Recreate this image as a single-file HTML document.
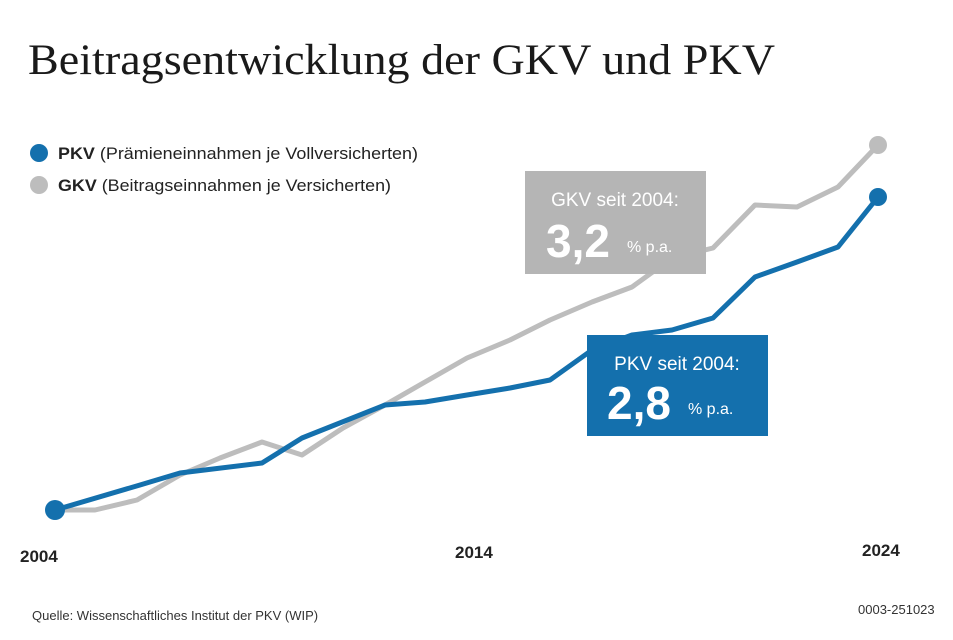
<!DOCTYPE html>
<html><head><meta charset="utf-8"><style>
body{margin:0;background:#fff;width:953px;height:635px;overflow:hidden;font-family:"Liberation Sans",sans-serif}
</style></head><body>
<svg width="953" height="635" xmlns="http://www.w3.org/2000/svg">
<text x="28" y="74" font-family="Liberation Serif,serif" font-size="43" fill="#1a1a1a" textLength="747" lengthAdjust="spacingAndGlyphs">Beitragsentwicklung der GKV und PKV</text>
<circle cx="39" cy="153" r="9" fill="#1470ad"/>
<text x="58" y="159" font-size="17" fill="#222" textLength="360" lengthAdjust="spacingAndGlyphs"><tspan font-weight="bold">PKV</tspan> (Prämieneinnahmen je Vollversicherten)</text>
<circle cx="39" cy="185" r="9" fill="#bdbdbd"/>
<text x="58" y="191" font-size="17" fill="#222" textLength="333" lengthAdjust="spacingAndGlyphs"><tspan font-weight="bold">GKV</tspan> (Beitragseinnahmen je Versicherten)</text>
<polyline fill="none" stroke="#bdbdbd" stroke-width="5" stroke-linejoin="round" points="55,510 95,510 137,500 180,475 220,458 262,442 302,455 343,428 385,405 425,382 467,358 510,340 550,320 592,302 632,287 672,258 713,248 755,205 797,207 838,187 878,145"/>
<polyline fill="none" stroke="#1470ad" stroke-width="5" stroke-linejoin="round" points="55,510 140,485 180,473 262,463 302,438 385,405 425,402 467,395 510,388 550,380 592,350 632,335 672,330 713,318 755,277 797,262 838,247 878,197"/>
<circle cx="878" cy="145" r="9" fill="#bdbdbd"/>
<circle cx="878" cy="197" r="9" fill="#1470ad"/>
<circle cx="55" cy="510" r="10" fill="#1470ad"/>
<rect x="525" y="171" width="181" height="103" fill="#b5b5b5"/>
<text x="615" y="206" font-size="19" fill="#fff" text-anchor="middle">GKV seit 2004:</text>
<text x="546" y="257" font-size="46" font-weight="bold" fill="#fff">3,2</text>
<text x="627" y="252" font-size="16" fill="#fff">% p.a.</text>
<rect x="587" y="335" width="181" height="101" fill="#1470ad"/>
<text x="677" y="370" font-size="19" fill="#fff" text-anchor="middle">PKV seit 2004:</text>
<text x="607" y="419" font-size="46" font-weight="bold" fill="#fff">2,8</text>
<text x="688" y="414" font-size="16" fill="#fff">% p.a.</text>
<text x="20" y="562" font-size="17" font-weight="bold" fill="#222">2004</text>
<text x="455" y="558" font-size="17" font-weight="bold" fill="#222">2014</text>
<text x="862" y="556" font-size="17" font-weight="bold" fill="#222">2024</text>
<text x="32" y="620" font-size="13" fill="#333">Quelle: Wissenschaftliches Institut der PKV (WIP)</text>
<text x="858" y="614" font-size="13" fill="#333">0003-251023</text>
</svg>
</body></html>
